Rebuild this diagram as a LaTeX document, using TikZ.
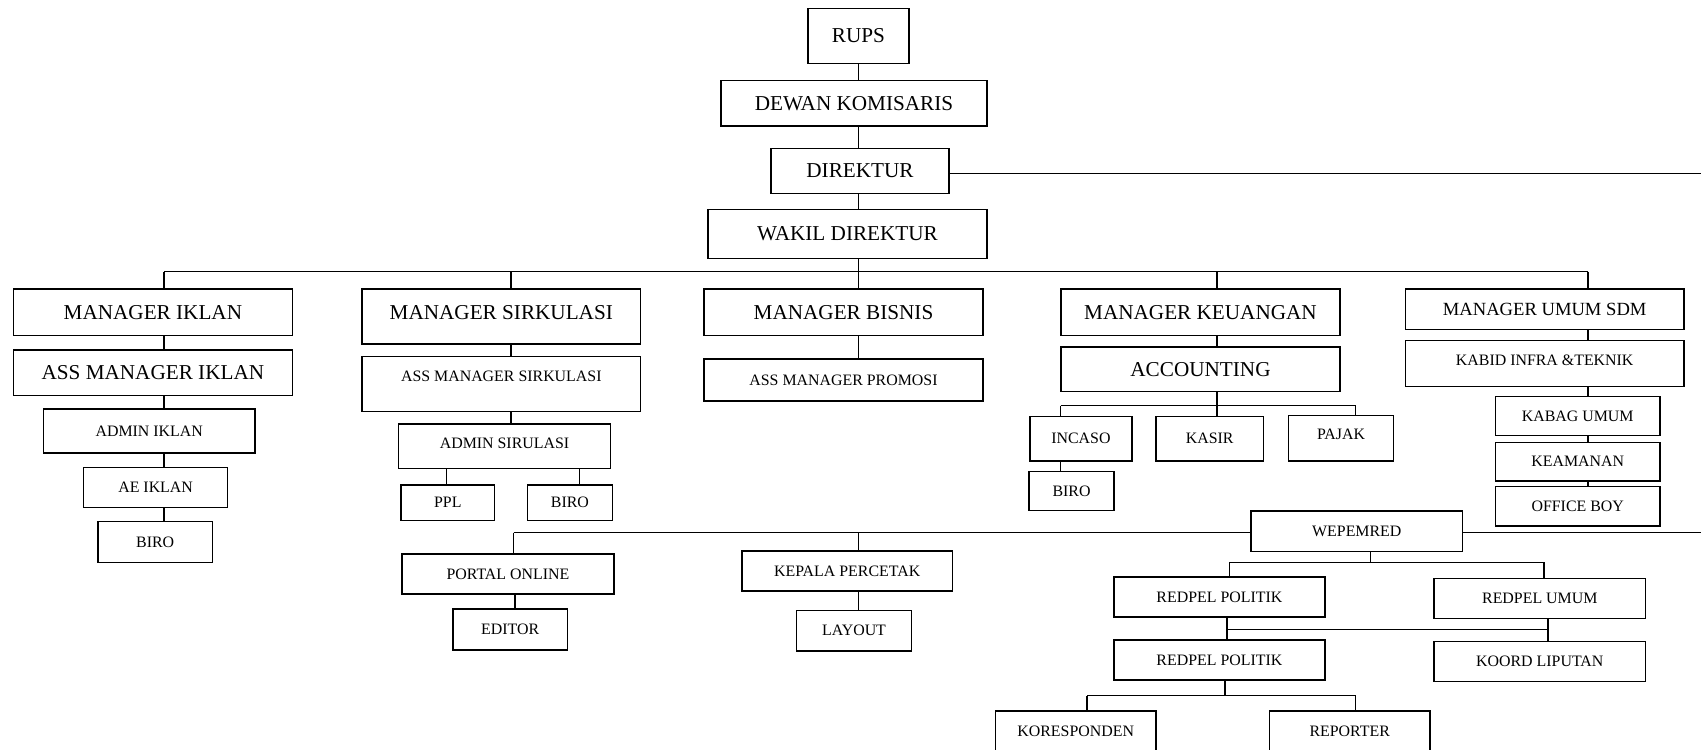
\documentclass[tikz,border=0pt]{standalone}
\usepackage{fontspec}
\setmainfont{Liberation Serif}
\begin{document}
\begin{tikzpicture}[x=1pt,y=-1pt,
  box/.style={draw, line width=1.5pt, inner sep=0pt, fill=white, font=\fontsize{15.9}{18}\selectfont},
  big/.style={font=\fontsize{21.2}{24}\selectfont},
  mid/.style={font=\fontsize{18.6}{21}\selectfont},
  conn/.style={line width=1.3pt}]
\clip (0,0) rectangle (1701,750);
\fill[white] (0,0) rectangle (1701,750);
% top chain
\node[box,big,minimum width=101pt,minimum height=55pt] (rups) at (858.5,35.8) {RUPS};
\node[box,big,minimum width=266pt,minimum height=45.3pt] (dewan) at (854,103.3) {DEWAN KOMISARIS};
\node[box,big,minimum width=178pt,minimum height=44.6pt] (dir) at (860,171) {DIREKTUR};
\node[box,big,minimum width=279pt,minimum height=49pt] (wakil) at (847.5,233.8) {WAKIL DIREKTUR};
% iklan
\node[box,big,minimum width=279pt,minimum height=46.3pt] (mi) at (152.9,312.2) {MANAGER IKLAN};
\node[box,big,minimum width=279pt,minimum height=45.3pt] (ami) at (152.9,372.7) {ASS MANAGER IKLAN};
\node[box,minimum width=211.7pt,minimum height=44.3pt] (admi) at (149.2,430.9) {ADMIN IKLAN};
\node[box,minimum width=144.2pt,minimum height=40pt] (ae) at (155.6,487.3) {AE IKLAN};
\node[box,minimum width=114.7pt,minimum height=40.6pt] (biroa) at (155.2,542) {BIRO};
% sirkulasi
\node[box,big,minimum width=278.6pt,minimum height=54.7pt,text depth=8.2pt] (ms) at (501.3,316.4) {MANAGER SIRKULASI};
\node[box,minimum width=278.6pt,minimum height=55pt,text depth=16.4pt] (ams) at (501.3,384.2) {ASS MANAGER SIRKULASI};
\node[box,minimum width=211.6pt,minimum height=44.7pt,text depth=6pt] (adms) at (504.5,446.3) {ADMIN SIRULASI};
\node[box,minimum width=93.6pt,minimum height=35.3pt] (ppl) at (447.8,502.7) {PPL};
\node[box,minimum width=85.3pt,minimum height=35.3pt] (birob) at (569.9,502.7) {BIRO};
% bisnis
\node[box,big,minimum width=279pt,minimum height=46.7pt] (mb) at (843.5,312.3) {MANAGER BISNIS};
\node[box,minimum width=279pt,minimum height=42pt] (amp) at (843.5,380) {ASS MANAGER PROMOSI};
% keuangan
\node[box,big,minimum width=279pt,minimum height=46.7pt] (mk) at (1200.5,312.3) {MANAGER KEUANGAN};
\node[box,big,minimum width=279pt,minimum height=44.3pt] (acc) at (1200.5,369.2) {ACCOUNTING};
\node[box,minimum width=101.8pt,minimum height=44.3pt] (incaso) at (1080.9,438.8) {INCASO};
\node[box,minimum width=107.3pt,minimum height=44.3pt] (kasir) at (1209.7,438.8) {KASIR};
\node[box,minimum width=105.4pt,minimum height=45.7pt,text depth=7.8pt] (pajak) at (1341,438.2) {PAJAK};
\node[box,minimum width=85.3pt,minimum height=39pt] (biroc) at (1071.5,491.2) {BIRO};
% umum sdm
\node[box,mid,minimum width=278.7pt,minimum height=40.3pt] (mu) at (1544.7,309.2) {MANAGER UMUM SDM};
\node[box,minimum width=278.7pt,minimum height=45.6pt,text depth=5.6pt] (kabid) at (1544.7,363.5) {KABID INFRA \&TEKNIK};
\node[box,minimum width=164.7pt,minimum height=39.4pt] (kabag) at (1577.7,416) {KABAG UMUM};
\node[box,minimum width=164.7pt,minimum height=38.7pt] (keam) at (1577.7,461.7) {KEAMANAN};
\node[box,minimum width=164.7pt,minimum height=39.3pt] (ob) at (1577.7,506.3) {OFFICE BOY};
% lower part
\node[box,minimum width=212.3pt,minimum height=40.3pt] (portal) at (507.9,573.9) {PORTAL ONLINE};
\node[box,minimum width=114.4pt,minimum height=41pt] (editor) at (510.2,629.5) {EDITOR};
\node[box,minimum width=210.7pt,minimum height=39.7pt] (kp) at (847.2,570.9) {KEPALA PERCETAK};
\node[box,minimum width=114.8pt,minimum height=40.7pt] (layout) at (854,630.7) {LAYOUT};
\node[box,minimum width=211.6pt,minimum height=40.7pt] (wep) at (1356.8,531.3) {WEPEMRED};
\node[box,minimum width=211.2pt,minimum height=40.3pt] (rp1) at (1219.4,596.9) {REDPEL POLITIK};
\node[box,minimum width=211.2pt,minimum height=40pt] (ru) at (1539.8,598.7) {REDPEL UMUM};
\node[box,minimum width=211.2pt,minimum height=40pt] (rp2) at (1219.4,660) {REDPEL POLITIK};
\node[box,minimum width=211.2pt,minimum height=40pt] (kl) at (1539.8,661.7) {KOORD LIPUTAN};
\node[box,minimum width=160.5pt,minimum height=40pt] (kor) at (1075.7,731) {KORESPONDEN};
\node[box,minimum width=160.5pt,minimum height=40pt] (rep) at (1349.7,731) {REPORTER};
% coordinates
\coordinate (cx) at (858.7,0);
\coordinate (dirR) at (1701,173.3);
\coordinate (b1L) at (164,271.7);
\coordinate (b1s) at (511,271.7);
\coordinate (b1c) at (858.7,271.7);
\coordinate (b1k) at (1217,271.7);
\coordinate (b1R) at (1588,271.7);
\coordinate (xp) at (446.4,0);
\coordinate (xb) at (579.5,0);
\coordinate (kb) at (1217,405.7);
\coordinate (kbL) at (1060.6,405.7);
\coordinate (kbR) at (1355.7,405.7);
\coordinate (b2L) at (513.5,532.7);
\coordinate (b2k) at (858.6,532.7);
\coordinate (b2R) at (1701,532.7);
\coordinate (xe) at (515,0);
\coordinate (b3L) at (1229.7,562.3);
\coordinate (b3w) at (1370.6,562.3);
\coordinate (b3R) at (1544,562.3);
\coordinate (m1) at (1227,629.3);
\coordinate (m2) at (1548,629.3);
\coordinate (b4L) at (1087,695.7);
\coordinate (b4c) at (1225,695.7);
\coordinate (b4R) at (1355.6,695.7);
\begin{scope}[conn]
% top chain
\draw (rups.south -| cx) -- (dewan.north -| cx);
\draw (dewan.south -| cx) -- (dir.north -| cx);
\draw (dir.south -| cx) -- (wakil.north -| cx);
\draw (wakil.south -| cx) -- (b1c);
\draw (dirR -| dir.east) -- (dirR);
\draw (b1L) -- (b1R);
% iklan
\draw (b1L) -- (mi.north -| b1L);
\draw (mi.south -| b1L) -- (ami.north -| b1L);
\draw (ami.south -| b1L) -- (admi.north -| b1L);
\draw (admi.south -| b1L) -- (ae.north -| b1L);
\draw (ae.south -| b1L) -- (biroa.north -| b1L);
% sirkulasi
\draw (b1s) -- (ms.north -| b1s);
\draw (ms.south -| b1s) -- (ams.north -| b1s);
\draw (ams.south -| b1s) -- (adms.north -| b1s);
\draw (adms.south -| xp) -- (ppl.north -| xp);
\draw (adms.south -| xb) -- (birob.north -| xb);
% bisnis
\draw (b1c) -- (mb.north -| b1c);
\draw (mb.south -| b1c) -- (amp.north -| b1c);
% keuangan
\draw (b1k) -- (mk.north -| b1k);
\draw (mk.south -| b1k) -- (acc.north -| b1k);
\draw (acc.south -| kb) -- (kb);
\draw (kbL) -- (kbR);
\draw (kbL) -- (incaso.north -| kbL);
\draw (kb) -- (kasir.north -| kb);
\draw (kbR) -- (pajak.north -| kbR);
\draw (incaso.south -| kbL) -- (biroc.north -| kbL);
% umum sdm
\draw (b1R) -- (mu.north -| b1R);
\draw (mu.south -| b1R) -- (kabid.north -| b1R);
\draw (kabid.south -| b1R) -- (kabag.north -| b1R);
\draw (kabag.south -| b1R) -- (keam.north -| b1R);
\draw (keam.south -| b1R) -- (ob.north -| b1R);
% lower bus
\draw (b2L) -- (wep.west |- b2L);
\draw (wep.east |- b2R) -- (b2R);
\draw (b2L) -- (portal.north -| b2L);
\draw (portal.south -| xe) -- (editor.north -| xe);
\draw (b2k) -- (kp.north -| b2k);
\draw (kp.south -| b2k) -- (layout.north -| b2k);
% redaksi
\draw (wep.south -| b3w) -- (b3w);
\draw (b3L) -- (b3R);
\draw (b3L) -- (rp1.north -| b3L);
\draw (b3R) -- (ru.north -| b3R);
\draw (rp1.south -| m1) -- (rp2.north -| m1);
\draw (m1) -- (m2);
\draw (ru.south -| m2) -- (kl.north -| m2);
\draw (rp2.south -| b4c) -- (b4c);
\draw (b4L) -- (b4R);
\draw (b4L) -- (kor.north -| b4L);
\draw (b4R) -- (rep.north -| b4R);
\end{scope}
\end{tikzpicture}
\end{document}
